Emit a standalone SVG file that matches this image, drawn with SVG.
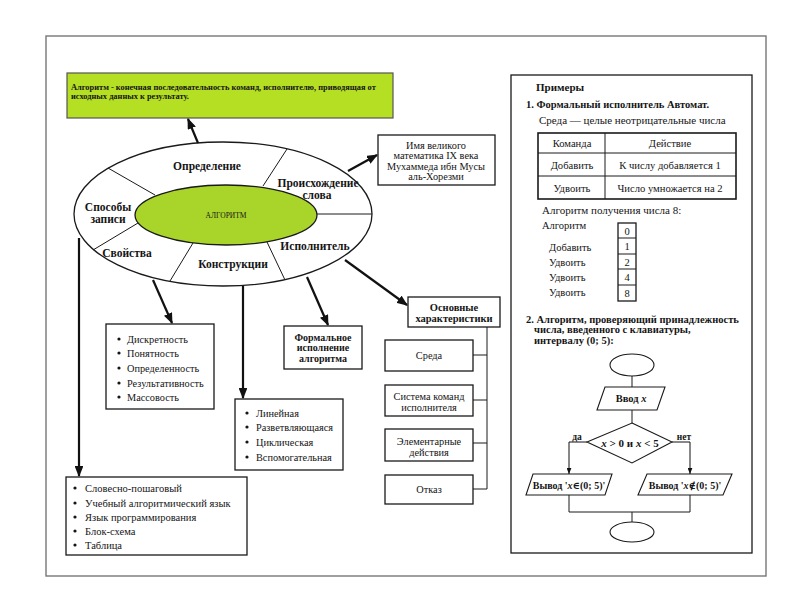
<svg xmlns="http://www.w3.org/2000/svg" width="800" height="600" viewBox="0 0 800 600">
<defs>
<style>
.t{font-family:"Liberation Serif","DejaVu Serif",serif;fill:#151515}
.b{font-weight:bold}
.box{fill:#fff;stroke:#1a1a1a;stroke-width:1.3}
.ln{stroke:#1a1a1a;stroke-width:1;fill:none}
.arr{stroke:#111;stroke-width:2.2;fill:none;marker-end:url(#ah)}
.sarr{stroke:#111;stroke-width:1;fill:none;marker-end:url(#sh)}
.dot{fill:#151515}
</style>
<marker id="ah" viewBox="0 0 10 8" refX="9" refY="4" markerWidth="5" markerHeight="4" orient="auto">
<path d="M0,0 L10,4 L0,8 Z" fill="#111"/>
</marker>
<marker id="sh" viewBox="0 0 10 8" refX="10" refY="4" markerWidth="6" markerHeight="5" orient="auto">
<path d="M0,0 L10,4 L0,8 Z" fill="#111"/>
</marker>
</defs>
<rect x="0" y="0" width="800" height="600" fill="#fff"/>
<rect x="46" y="36" width="720" height="540" fill="none" stroke="#777" stroke-width="1.4"/>

<g id="definition-box">
<rect x="67" y="73" width="326" height="45" fill="#b5df22" stroke="#555" stroke-width="1.2"/>
<text class="t b" x="71" y="89.5" font-size="8.4">Алгоритм - конечная последовательность команд, исполнителю, приводящая от</text>
<text class="t b" x="71" y="99" font-size="8.4">исходных данных к результату.</text>
</g>

<g id="main-ellipse">
<ellipse cx="223" cy="214" rx="149" ry="72" fill="#fff" stroke="#1a1a1a" stroke-width="1.3"/>
<line class="ln" x1="108" y1="168" x2="155" y2="195"/>
<line class="ln" x1="287" y1="149" x2="263" y2="186"/>
<line class="ln" x1="317" y1="214" x2="372" y2="214"/>
<line class="ln" x1="267" y1="242" x2="285" y2="280"/>
<line class="ln" x1="193" y1="243" x2="170" y2="281"/>
<line class="ln" x1="138" y1="223" x2="93" y2="250"/>
<ellipse cx="226" cy="215" rx="91" ry="30" fill="#a9d42a" stroke="#1a1a1a" stroke-width="1.3"/>
<text class="t" x="226" y="218" font-size="7.5" text-anchor="middle">АЛГОРИТМ</text>
<g class="t b" font-size="11.5" text-anchor="middle">
<text x="207" y="170">Определение</text>
<text x="318" y="187">Происхождение</text>
<text x="317" y="198.5">слова</text>
<text x="108" y="211">Способы</text>
<text x="108" y="223">записи</text>
<text x="127" y="257">Свойства</text>
<text x="233" y="268">Конструкции</text>
<text x="315" y="250">Исполнитель</text>
</g>
</g>

<g id="origin-box">
<rect class="box" x="378" y="135" width="117" height="50"/>
<g class="t" font-size="10.3" text-anchor="middle">
<text x="436" y="148.5">Имя великого</text>
<text x="436" y="158.5">математика IX века</text>
<text x="436" y="169.5">Мухаммеда ибн Мусы</text>
<text x="436" y="179.5">аль-Хорезми</text>
</g>
</g>

<g id="characteristics">
<rect class="box" x="408" y="297" width="92" height="30"/>
<text class="t b" x="454" y="310.5" font-size="10.5" text-anchor="middle">Основные</text>
<text class="t b" x="454" y="321.5" font-size="10.5" text-anchor="middle">характеристики</text>
</g>
<g id="char-sreda">
<rect class="box" x="385" y="340" width="88" height="31"/>
<text class="t" x="429" y="358.5" font-size="10.3" text-anchor="middle">Среда</text>
</g>
<g id="char-system">
<rect class="box" x="385" y="385" width="88" height="31"/>
<text class="t" x="429" y="400" font-size="10.3" text-anchor="middle">Система команд</text>
<text class="t" x="429" y="411" font-size="10.3" text-anchor="middle">исполнителя</text>
</g>
<g id="char-elem">
<rect class="box" x="385" y="429" width="88" height="32"/>
<text class="t" x="429" y="445" font-size="10.3" text-anchor="middle">Элементарные</text>
<text class="t" x="429" y="456" font-size="10.3" text-anchor="middle">действия</text>
</g>
<g id="char-otkaz">
<rect class="box" x="385" y="475" width="88" height="29"/>
<text class="t" x="429" y="492.5" font-size="10.3" text-anchor="middle">Отказ</text>
</g>

<g id="formal-box">
<rect class="box" x="284" y="326" width="78" height="43"/>
<g class="t b" font-size="10" text-anchor="middle">
<text x="323" y="340.5">Формальное</text>
<text x="323" y="351">исполнение</text>
<text x="323" y="361.5">алгоритма</text>
</g>
</g>

<g id="properties-list">
<rect class="box" x="106" y="324" width="108" height="85"/>
<g class="t" font-size="10.3">
<circle class="dot" cx="119" cy="339" r="1.6"/><text x="127" y="342.5">Дискретность</text>
<circle class="dot" cx="119" cy="353" r="1.6"/><text x="127" y="356.5">Понятность</text>
<circle class="dot" cx="119" cy="368" r="1.6"/><text x="127" y="371.5">Определенность</text>
<circle class="dot" cx="119" cy="383" r="1.6"/><text x="127" y="386.5">Результативность</text>
<circle class="dot" cx="119" cy="397" r="1.6"/><text x="127" y="400.5">Массовость</text>
</g>
</g>

<g id="constructions-list">
<rect class="box" x="235" y="399" width="108" height="71"/>
<g class="t" font-size="10.3">
<circle class="dot" cx="247" cy="413" r="1.6"/><text x="256" y="416.5">Линейная</text>
<circle class="dot" cx="247" cy="427" r="1.6"/><text x="256" y="430.5">Разветвляющаяся</text>
<circle class="dot" cx="247" cy="442" r="1.6"/><text x="256" y="445.5">Циклическая</text>
<circle class="dot" cx="247" cy="457" r="1.6"/><text x="256" y="460.5">Вспомогательная</text>
</g>
</g>

<g id="notation-list">
<rect class="box" x="66" y="477" width="181" height="78"/>
<g class="t" font-size="10.5">
<circle class="dot" cx="75" cy="488" r="1.6"/><text x="85" y="491.5">Словесно-пошаговый</text>
<circle class="dot" cx="75" cy="503" r="1.6"/><text x="85" y="506.5">Учебный алгоритмический язык</text>
<circle class="dot" cx="75" cy="517" r="1.6"/><text x="85" y="520.5">Язык программирования</text>
<circle class="dot" cx="75" cy="531" r="1.6"/><text x="85" y="534.5">Блок-схема</text>
<circle class="dot" cx="75" cy="545" r="1.6"/><text x="85" y="548.5">Таблица</text>
</g>
</g>

<g id="connectors">
<line class="arr" x1="198" y1="143" x2="188" y2="119"/>
<line class="arr" x1="348" y1="171" x2="377" y2="155"/>
<line class="arr" x1="345" y1="260" x2="407" y2="305"/>
<line class="arr" x1="307" y1="277" x2="328" y2="325"/>
<line class="arr" x1="243" y1="286" x2="243" y2="398"/>
<line class="arr" x1="153" y1="280" x2="172" y2="323"/>
<line class="arr" x1="79" y1="238" x2="79" y2="476"/>
<polyline class="ln" points="487,327 487,489"/>
<line class="ln" x1="473" y1="355" x2="487" y2="355"/>
<line class="ln" x1="473" y1="400" x2="487" y2="400"/>
<line class="ln" x1="473" y1="443" x2="487" y2="443"/>
<line class="ln" x1="473" y1="489" x2="487" y2="489"/>
</g>

<g id="examples-panel">
<rect x="511" y="75" width="241" height="478" fill="none" stroke="#1a1a1a" stroke-width="1.3"/>
<text class="t b" x="536" y="91" font-size="11">Примеры</text>
<text class="t b" x="526" y="107.5" font-size="10.5">1. Формальный исполнитель Автомат.</text>
<text class="t" x="539" y="123.5" font-size="11">Среда — целые неотрицательные числа</text>
</g>

<g id="command-table">
<rect x="538" y="133" width="198" height="66" fill="none" stroke="#1a1a1a" stroke-width="1.6"/>
<line class="ln" x1="605" y1="133" x2="605" y2="199" stroke-width="1.4"/>
<line class="ln" x1="538" y1="153" x2="736" y2="153" stroke-width="1.4"/>
<line class="ln" x1="538" y1="176" x2="736" y2="176" stroke-width="1.4"/>
<g class="t" font-size="10.6" text-anchor="middle">
<text x="572" y="146.5">Команда</text>
<text x="670" y="146.5">Действие</text>
<text x="572" y="169">Добавить</text>
<text x="670" y="169">К числу добавляется 1</text>
<text x="572" y="191.5">Удвоить</text>
<text x="670" y="191.5">Число умножается на 2</text>
</g>
</g>

<g id="example-steps">
<text class="t" x="542" y="213.5" font-size="11">Алгоритм получения числа 8:</text>
<text class="t" x="542" y="228.5" font-size="10.5">Алгоритм</text>
<g class="t" font-size="10.5">
<text x="549" y="250.5">Добавить</text>
<text x="549" y="265.5">Удвоить</text>
<text x="549" y="280.5">Удвоить</text>
<text x="549" y="295.5">Удвоить</text>
</g>
<rect x="618" y="223" width="18" height="78" fill="none" stroke="#1a1a1a" stroke-width="1.3"/>
<line class="ln" x1="618" y1="238" x2="636" y2="238"/>
<line class="ln" x1="618" y1="254" x2="636" y2="254"/>
<line class="ln" x1="618" y1="269" x2="636" y2="269"/>
<line class="ln" x1="618" y1="285" x2="636" y2="285"/>
<g class="t" font-size="10.5" text-anchor="middle">
<text x="627" y="234.5">0</text>
<text x="627" y="249.5">1</text>
<text x="627" y="265.5">2</text>
<text x="627" y="280.5">4</text>
<text x="627" y="296.5">8</text>
</g>
<text class="t b" x="526" y="322.5" font-size="10.5">2. Алгоритм, проверяющий принадлежность</text>
<text class="t b" x="534" y="333" font-size="10.5">числа, введенного с клавиатуры,</text>
<text class="t b" x="534" y="343.5" font-size="10.5">интервалу (0; 5):</text>
</g>

<g id="fc-start"><ellipse cx="632" cy="365" rx="22" ry="11" fill="#fff" stroke="#1a1a1a" stroke-width="1.1"/></g>
<g id="fc-input">
<polygon points="605,387 665,387 657,410 597,410" fill="#fff" stroke="#1a1a1a" stroke-width="1.1"/>
<text class="t b" x="631" y="402" font-size="10.5" text-anchor="middle">Ввод <tspan font-style="italic">x</tspan></text>
</g>
<g id="fc-cond">
<polygon points="632,423 672,442 632,463 587,442" fill="#fff" stroke="#1a1a1a" stroke-width="1.1"/>
<text class="t b" x="630" y="446.5" font-size="11" text-anchor="middle"><tspan font-style="italic">x</tspan> &gt; 0 и <tspan font-style="italic">x</tspan> &lt; 5</text>
</g>
<g id="fc-yes">
<polygon points="533,474 612,474 605,495 526,495" fill="#fff" stroke="#1a1a1a" stroke-width="1.1"/>
<text class="t b" x="569" y="488.5" font-size="10" text-anchor="middle">Вывод '<tspan font-style="italic">x</tspan>∈(0; 5)'</text>
</g>
<g id="fc-no">
<polygon points="647,474 732,474 723,495 638,495" fill="#fff" stroke="#1a1a1a" stroke-width="1.1"/>
<text class="t b" x="685" y="488.5" font-size="10" text-anchor="middle">Вывод '<tspan font-style="italic">x</tspan>∉(0; 5)'</text>
</g>
<g id="fc-end"><ellipse cx="632" cy="532" rx="22" ry="10" fill="#fff" stroke="#1a1a1a" stroke-width="1.1"/></g>

<g id="fc-connectors">
<line class="ln" x1="632" y1="376" x2="632" y2="387"/>
<line class="ln" x1="632" y1="410" x2="632" y2="423"/>
<polyline class="sarr" points="587,442 569,442 569,474"/>
<polyline class="sarr" points="672,442 690,442 690,474"/>
<polyline class="ln" points="569,495 569,512 690,512 690,495"/>
<line class="ln" x1="632" y1="512" x2="632" y2="522"/>
<text class="t b" x="577" y="440" font-size="9.5" text-anchor="middle">да</text>
<text class="t b" x="684" y="440" font-size="9.5" text-anchor="middle">нет</text>
</g>
</svg>
